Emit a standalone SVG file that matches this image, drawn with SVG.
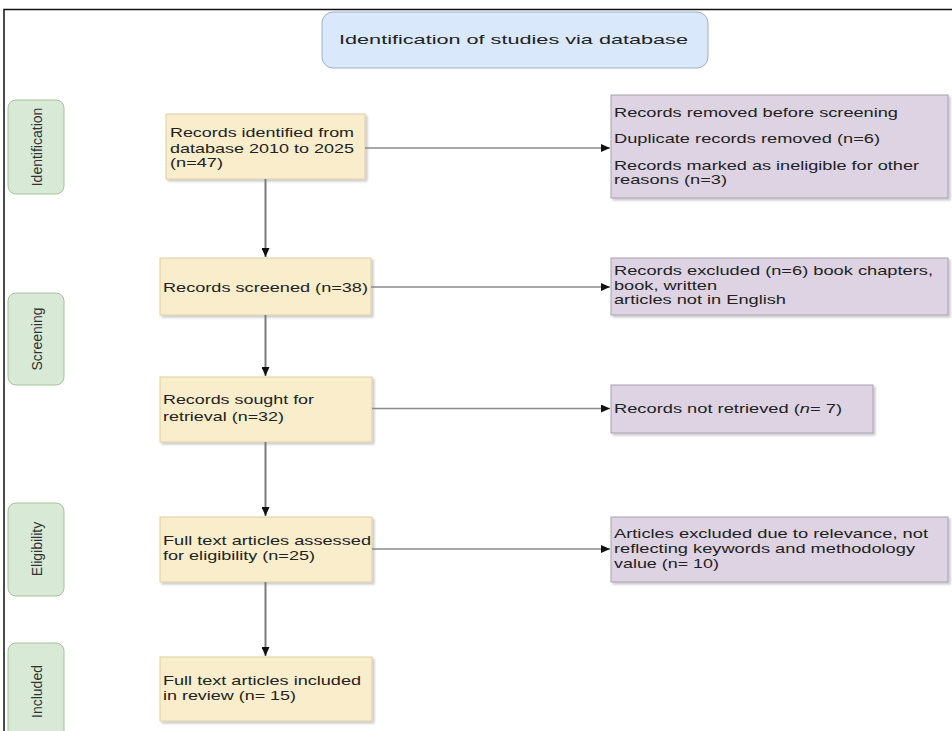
<svg xmlns="http://www.w3.org/2000/svg" width="952" height="731" viewBox="0 0 952 731">
  <style>
    .t { font-family: "Liberation Sans", Arial, sans-serif; font-size: 13px; fill: #222; }
    .tab { fill: #d8e9d6; stroke: #a6c29c; stroke-width: 1; }
    .tabt { font-family: "Liberation Sans", Arial, sans-serif; font-size: 14px; fill: #333; text-anchor: middle; }
    .yel { fill: #f9edcb; stroke: #dccfa6; stroke-width: 1; filter: url(#sh); }
    .pur { fill: #ddd3e3; stroke: #a79fb0; stroke-width: 1; filter: url(#sh); }
    .vline { stroke: #7a7a7a; stroke-width: 2; fill: none; marker-end: url(#ah); }
    .hline { stroke: #8a8a8a; stroke-width: 1.5; fill: none; marker-end: url(#ah); }
  </style>
  <defs>
    <filter id="sh" x="-5%" y="-10%" width="115%" height="130%">
      <feDropShadow dx="2" dy="2" stdDeviation="1.2" flood-color="#000" flood-opacity="0.22"/>
    </filter>
    <marker id="ah" markerUnits="userSpaceOnUse" markerWidth="9" markerHeight="8" refX="9" refY="4" orient="auto">
      <path d="M0,0 L9,4 L0,8 z" fill="#111"/>
    </marker>
  </defs>
  <rect width="952" height="731" fill="#fff"/>
  <!-- outer frame -->
  <path d="M4,731 L4,9.5 L952,9.5" fill="none" stroke="#111" stroke-width="1.5"/>

  <g id="title">
    <rect x="322" y="12" width="386" height="56" rx="11" fill="#dae8fc" stroke="#9fb0c6" stroke-width="1"/>
    <text class="t" x="339" y="43.5" font-size="14" textLength="349" lengthAdjust="spacingAndGlyphs">Identification of studies via database</text>
  </g>

  <g id="tab-identification">
    <rect class="tab" x="8" y="100" width="56" height="94" rx="8"/>
    <text class="tabt" transform="translate(42,147) rotate(-90)">Identification</text>
  </g>
  <g id="tab-screening">
    <rect class="tab" x="8" y="293" width="56" height="92" rx="8"/>
    <text class="tabt" transform="translate(42,339) rotate(-90)">Screening</text>
  </g>
  <g id="tab-eligibility">
    <rect class="tab" x="8" y="503" width="56" height="93" rx="8"/>
    <text class="tabt" transform="translate(42,549) rotate(-90)">Eligibility</text>
  </g>
  <g id="tab-included">
    <rect class="tab" x="8" y="643" width="56" height="98" rx="8"/>
    <text class="tabt" transform="translate(42,691.5) rotate(-90)">Included</text>
  </g>

  <g id="box-identified">
    <rect class="yel" x="166" y="114" width="199" height="65"/>
    <text class="t" x="170" y="137" textLength="184" lengthAdjust="spacingAndGlyphs">Records identified from</text>
    <text class="t" x="170" y="152.5" textLength="184" lengthAdjust="spacingAndGlyphs">database 2010 to 2025</text>
    <text class="t" x="170" y="166.5" textLength="53" lengthAdjust="spacingAndGlyphs">(n=47)</text>
  </g>
  <g id="box-screened">
    <rect class="yel" x="160" y="258" width="211" height="57"/>
    <text class="t" x="163" y="291.5" textLength="205" lengthAdjust="spacingAndGlyphs">Records screened (n=38)</text>
  </g>
  <g id="box-sought">
    <rect class="yel" x="160" y="377" width="212" height="65"/>
    <text class="t" x="163" y="404" textLength="151" lengthAdjust="spacingAndGlyphs">Records sought for</text>
    <text class="t" x="163" y="421" textLength="121" lengthAdjust="spacingAndGlyphs">retrieval (n=32)</text>
  </g>
  <g id="box-assessed">
    <rect class="yel" x="160" y="517" width="212" height="65"/>
    <text class="t" x="163" y="545" textLength="208" lengthAdjust="spacingAndGlyphs">Full text articles assessed</text>
    <text class="t" x="163" y="560" textLength="152" lengthAdjust="spacingAndGlyphs">for eligibility (n=25)</text>
  </g>
  <g id="box-included">
    <rect class="yel" x="160" y="657" width="212" height="64"/>
    <text class="t" x="163" y="685" textLength="198" lengthAdjust="spacingAndGlyphs">Full text articles included</text>
    <text class="t" x="163" y="700" textLength="133" lengthAdjust="spacingAndGlyphs">in review (n= 15)</text>
  </g>

  <g id="box-removed">
    <rect class="pur" x="611" y="95" width="337" height="103"/>
    <text class="t" x="614" y="116.5" textLength="284" lengthAdjust="spacingAndGlyphs">Records removed before screening</text>
    <text class="t" x="614" y="143" textLength="266" lengthAdjust="spacingAndGlyphs">Duplicate records removed (n=6)</text>
    <text class="t" x="614" y="170" textLength="305" lengthAdjust="spacingAndGlyphs">Records marked as ineligible for other</text>
    <text class="t" x="614" y="184" textLength="113" lengthAdjust="spacingAndGlyphs">reasons (n=3)</text>
  </g>
  <g id="box-excluded">
    <rect class="pur" x="611" y="258" width="337" height="57"/>
    <text class="t" x="614" y="275" textLength="319" lengthAdjust="spacingAndGlyphs">Records excluded (n=6) book chapters,</text>
    <text class="t" x="614" y="290" textLength="103" lengthAdjust="spacingAndGlyphs">book, written</text>
    <text class="t" x="614" y="304" textLength="172" lengthAdjust="spacingAndGlyphs">articles not in English</text>
  </g>
  <g id="box-not-retrieved">
    <rect class="pur" x="611" y="385" width="262" height="48"/>
    <text class="t" x="614" y="413" textLength="228" lengthAdjust="spacingAndGlyphs">Records not retrieved (<tspan font-style="italic">n</tspan>= 7)</text>
  </g>
  <g id="box-articles-excluded">
    <rect class="pur" x="611" y="517" width="337" height="65"/>
    <text class="t" x="614" y="538" textLength="314" lengthAdjust="spacingAndGlyphs">Articles excluded due to relevance, not</text>
    <text class="t" x="614" y="553" textLength="301" lengthAdjust="spacingAndGlyphs">reflecting keywords and methodology</text>
    <text class="t" x="614" y="568" textLength="105" lengthAdjust="spacingAndGlyphs">value (n= 10)</text>
  </g>

  <g id="connectors">
    <line class="vline" x1="265.5" y1="179" x2="265.5" y2="257"/>
    <line class="vline" x1="265.5" y1="315" x2="265.5" y2="376"/>
    <line class="vline" x1="265.5" y1="442" x2="265.5" y2="516"/>
    <line class="vline" x1="265.5" y1="582" x2="265.5" y2="656"/>
    <line class="hline" x1="365" y1="148" x2="610" y2="148"/>
    <line class="hline" x1="371" y1="287" x2="610" y2="287"/>
    <line class="hline" x1="372" y1="408.5" x2="610" y2="408.5"/>
    <line class="hline" x1="372" y1="549" x2="610" y2="549"/>
  </g>
</svg>
